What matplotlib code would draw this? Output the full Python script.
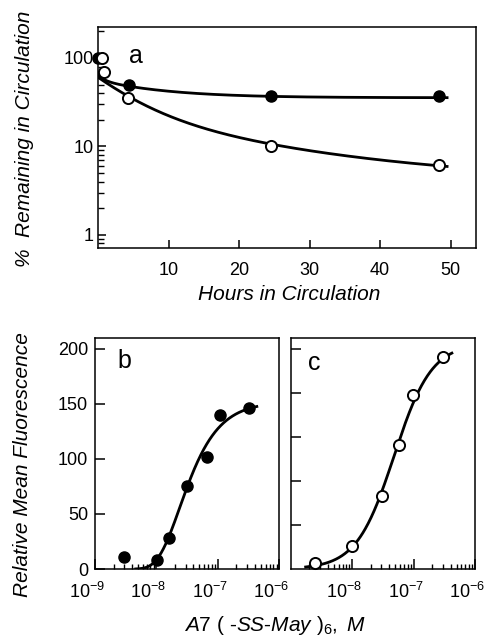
import numpy as np
import matplotlib
matplotlib.use("Agg")
import matplotlib.pyplot as plt
import matplotlib.transforms as mtransforms
from matplotlib.ticker import LogLocator, NullFormatter, FixedLocator, FixedFormatter

plt.rcParams['font.family'] = ['Liberation Sans', 'DejaVu Sans']
plt.rcParams['mathtext.fontset'] = 'custom'
plt.rcParams['mathtext.rm'] = 'Liberation Sans'
plt.rcParams['mathtext.it'] = 'Liberation Sans:italic'
plt.rcParams['axes.linewidth'] = 1.1

# panel a: clearance data (hours, % remaining)
hours_filled = [0.0, 4.4, 24.5, 48.3]
pct_filled = [100, 50, 37, 37]
hours_open = [0.5, 0.9, 4.3, 24.5, 48.3]
pct_open = [100, 70, 35, 10, 6.1]

# fitted clearance curves: floor + (amplitude, time constant) pairs
fit_filled = (35.5, [(20, 9.0), (8, 1.0)])
fit_open = (4.0, [(19.5, 21.4), (37, 5.5)])

# panel b / c: binding titration (M, fluorescence)
conc_b = [2.95e-9, 1.02e-8, 1.62e-8, 3.16e-8, 6.6e-8, 1.07e-7, 3.2e-7]
fluor_b = [10.6, 8.2, 27.9, 75.7, 101.5, 140, 146]
conc_c = [2.5e-9, 1.0e-8, 3.07e-8, 5.7e-8, 9.8e-8, 3.0e-7]
fluor_c = [5.2, 21.2, 66.7, 112.7, 158, 192.5]

# fitted binding curves
gompertz_b = (152, 2.8, -7.62)        # ymax, slope, log10 midpoint
range_b = (4.6e-9, 4.3e-7)
hill_c = (205, 4.8e-8, 1.42)          # ymax, ec50, n
range_c = (1.75e-9, 4.2e-7)


def clearance(t, fit):
    floor, terms = fit
    y = np.full_like(t, floor)
    for amp, tau in terms:
        y = y + amp * np.exp(-t / tau)
    return y


def gompertz(x, ymax, k, z0):
    return ymax * np.exp(-np.exp(-k * (np.log10(x) - z0)))


def hill(x, ymax, ec50, n):
    r = (x / ec50) ** n
    return ymax * r / (1 + r)


fig = plt.figure(figsize=(4.89, 6.41), dpi=100)
ax_a = fig.add_axes([0.2004, 0.6131, 0.7730, 0.3448])
ax_b = fig.add_axes([0.1943, 0.1123, 0.3769, 0.3609])
ax_c = fig.add_axes([0.5945, 0.1123, 0.3769, 0.3609])

lw = 2.0
ms = 8
label_fs = 15

# ---- panel a
t = np.linspace(0.0, 49.5, 300)
ax_a.plot(t, clearance(t, fit_filled), color='black', lw=lw)
ax_a.plot(t, clearance(t, fit_open), color='black', lw=lw)
ax_a.plot(hours_filled, pct_filled, 'o', color='black', ms=ms, clip_on=False, zorder=3)
ax_a.plot(hours_open, pct_open, 'o', mfc='white', mec='black', mew=1.4, ms=ms, clip_on=False, zorder=3)
ax_a.set_yscale('log')
ax_a.set_xlim(0, 53.6)
ax_a.set_ylim(0.71, 224)
ax_a.xaxis.set_major_locator(FixedLocator([10, 20, 30, 40, 50]))
ax_a.yaxis.set_major_locator(FixedLocator([1, 10, 100]))
ax_a.yaxis.set_major_formatter(FixedFormatter(['1', '10', '100']))
ax_a.yaxis.set_minor_locator(LogLocator(base=10, subs=np.arange(2, 10)))
ax_a.yaxis.set_minor_formatter(NullFormatter())
ax_a.tick_params(which='major', direction='in', length=6, width=1.1, labelsize=13)
ax_a.tick_params(axis='x', pad=10)
ax_a.tick_params(axis='y', pad=3)
ax_a.tick_params(which='minor', direction='in', length=4, width=1.0)
ax_a.text(0.10, 0.87, 'a', transform=ax_a.transAxes, fontsize=18, ha='center', va='center')
fig.text(0.591, 0.540, 'Hours in Circulation', fontsize=label_fs, style='italic',
         ha='center', va='center')
fig.text(0.051, 0.783, '%  Remaining in Circulation', fontsize=label_fs, style='italic',
         rotation=90, ha='center', va='center')

# ---- panels b and c
xs_b = np.logspace(np.log10(range_b[0]), np.log10(range_b[1]), 300)
ax_b.plot(xs_b, gompertz(xs_b, *gompertz_b), color='black', lw=lw)
ax_b.plot(conc_b, fluor_b, 'o', color='black', ms=ms, clip_on=False, zorder=3)

xs_c = np.logspace(np.log10(range_c[0]), np.log10(range_c[1]), 300)
ax_c.plot(xs_c, hill(xs_c, *hill_c), color='black', lw=lw)
ax_c.plot(conc_c, fluor_c, 'o', mfc='white', mec='black', mew=1.4, ms=ms, clip_on=False, zorder=3)

shift = mtransforms.ScaledTranslation(-8 / 100, 0, fig.dpi_scale_trans)
for ax in (ax_b, ax_c):
    ax.set_xscale('log')
    ax.set_xlim(1e-9, 1e-6)
    ax.set_ylim(0, 210)
    ax.xaxis.set_minor_locator(LogLocator(base=10, subs=np.arange(2, 10)))
    ax.xaxis.set_minor_formatter(NullFormatter())
    ax.tick_params(which='major', direction='in', length=7, width=1.1, labelsize=13)
    ax.tick_params(axis='x', pad=9)
    ax.tick_params(axis='y', pad=5)
    ax.tick_params(which='minor', direction='in', length=3.5, width=1.0)

ax_b.xaxis.set_major_locator(FixedLocator([1e-9, 1e-8, 1e-7, 1e-6]))
ax_b.yaxis.set_major_locator(FixedLocator([0, 50, 100, 150, 200]))
ax_c.xaxis.set_major_locator(FixedLocator([1e-8, 1e-7, 1e-6]))
ax_c.yaxis.set_major_locator(FixedLocator([40, 80, 120, 160, 200]))
ax_c.tick_params(axis='y', labelleft=False)

fig.canvas.draw()
for ax in (ax_b, ax_c):
    for lab in ax.get_xticklabels():
        lab.set_transform(lab.get_transform() + shift)

ax_b.text(0.16, 0.90, 'b', transform=ax_b.transAxes, fontsize=18, ha='center', va='center')
ax_c.text(0.13, 0.89, 'c', transform=ax_c.transAxes, fontsize=18, ha='center', va='center')

fig.text(0.047, 0.276, 'Relative Mean Fluorescence', fontsize=label_fs, style='italic',
         rotation=90, ha='center', va='center')
fig.text(0.562, 0.016, r'$\mathit{A7\ (\ \text{-}SS\text{-}May\ )_6,\ M}$', fontsize=label_fs,
         ha='center', va='baseline')

fig.savefig('out.png', dpi=100)
